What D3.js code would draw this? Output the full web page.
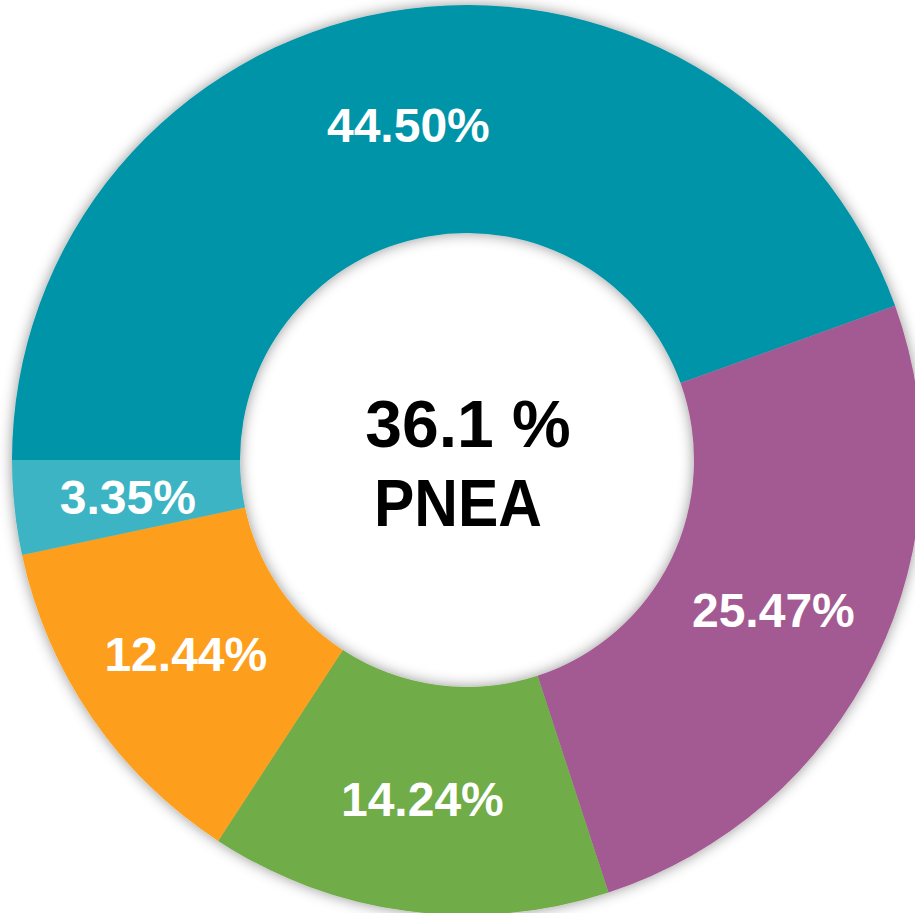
<!DOCTYPE html>
<html>
<head>
<meta charset="utf-8">
<script src="https://cdn.jsdelivr.net/npm/d3@7"></script>
<style>
  html, body { margin: 0; padding: 0; background: #ffffff; overflow: hidden; }
  svg { display: block; }
</style>
</head>
<body>
<svg id="chart" width="915" height="913"></svg>
<script>
const categories = ["A", "B", "C", "D", "E"];
const values = [44.50, 25.47, 14.24, 12.44, 3.35];
const labels = ["44.50%", "25.47%", "14.24%", "12.44%", "3.35%"];
const colors = ["#0294A8", "#A35A92", "#6FAC47", "#FD9F1B", "#3DB4C3"];
const centerLines = ["36.1 %", "PNEA"];

const svg = d3.select("#chart");
const cx = 467, cy = 460, rInner = 227, rOuter = 455;

const defs = svg.append("defs");
const f = defs.append("filter").attr("id", "shadow")
  .attr("x", "-10%").attr("y", "-10%").attr("width", "120%").attr("height", "120%");
f.append("feDropShadow").attr("dx", 0).attr("dy", 0)
  .attr("stdDeviation", 7).attr("flood-color", "#000").attr("flood-opacity", 0.42);

const g = svg.append("g").attr("transform", `translate(${cx},${cy})`);

const pie = d3.pie().sort(null).value(d => d.value)
  .startAngle(-Math.PI / 2).endAngle(3 * Math.PI / 2);
const data = pie(categories.map((c, i) => ({ cat: c, value: values[i], label: labels[i], color: colors[i] })));

const arc = d3.arc().innerRadius(rInner).outerRadius(rOuter);
const labelArc = d3.arc().innerRadius((rInner + rOuter) / 2).outerRadius((rInner + rOuter) / 2);

const ring = g.append("g").attr("filter", "url(#shadow)");
ring.selectAll("path").data(data).join("path")
  .attr("d", arc)
  .attr("fill", d => d.data.color);

g.selectAll("text.lbl").data(data).join("text")
  .attr("class", "lbl")
  .attr("transform", d => `translate(${labelArc.centroid(d)})`)
  .attr("text-anchor", "middle")
  .attr("dy", "0.37em")
  .attr("fill", "#ffffff")
  .attr("font-family", "Liberation Sans, Arial, sans-serif")
  .attr("font-weight", "bold")
  .attr("font-size", 48)
  .text(d => d.data.label);

g.append("text")
  .attr("x", 1).attr("y", -13)
  .attr("text-anchor", "middle")
  .attr("font-family", "Liberation Sans, Arial, sans-serif")
  .attr("font-weight", "bold").attr("font-size", 66)
  .attr("fill", "#000")
  .text(centerLines[0]);

g.append("text")
  .attr("x", -9).attr("y", 66)
  .attr("text-anchor", "middle")
  .attr("font-family", "Liberation Sans, Arial, sans-serif")
  .attr("font-weight", "bold").attr("font-size", 66)
  .attr("fill", "#000")
  .attr("textLength", 168).attr("lengthAdjust", "spacingAndGlyphs")
  .text(centerLines[1]);
</script>
</body>
</html>
